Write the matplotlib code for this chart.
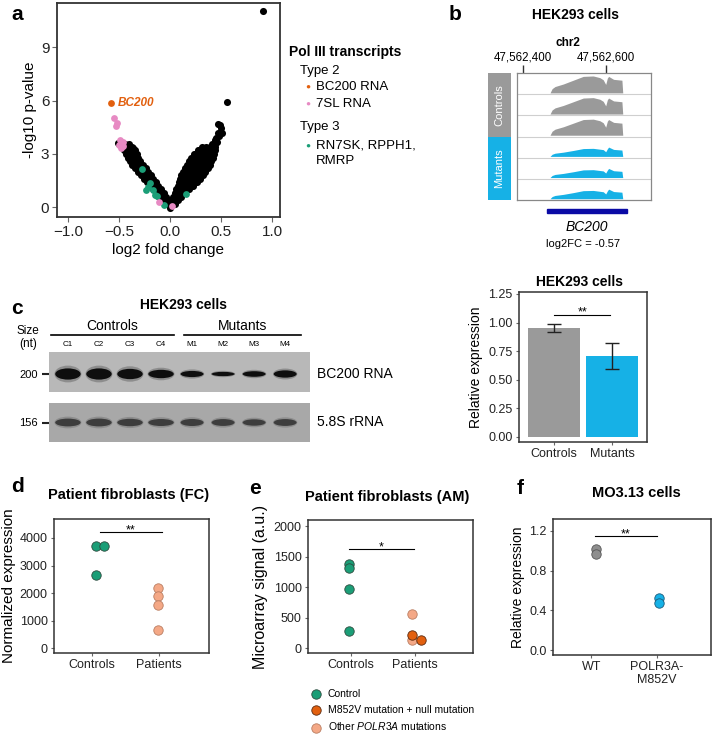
import matplotlib.pyplot as plt
import numpy as np
from matplotlib.patches import Ellipse, Rectangle

plt.rcParams['font.family'] = ['Liberation Sans', 'DejaVu Sans']
plt.rcParams['mathtext.fontset'] = 'custom'
plt.rcParams['mathtext.it'] = 'Liberation Sans:italic'
plt.rcParams['mathtext.rm'] = 'Liberation Sans'

W, H = 713, 736

GREEN = '#1b9e77'
ORANGE = '#e2600f'
PINK = '#e78ac3'
SALMON = '#f4a886'
BLUE = '#16b1e6'
GRAY = '#9a9a9a'

# ---- a: volcano (black cloud read row by row: y level, x positions) ----
volcano_rows = [
    (-0.05, [0.0]),
    (0.2, [-0.04, -0.01, 0.01, 0.05]),
    (0.4, [-0.08, -0.05, -0.02, 0.02, 0.05, 0.08]),
    (0.6, [-0.11, -0.07, -0.035, 0.03, 0.07, 0.11]),
    (0.8, [-0.14, -0.1, -0.06, 0.045, 0.085, 0.12, 0.15]),
    (1.0, [-0.165, -0.125, -0.09, 0.06, 0.1, 0.14, 0.19]),
    (1.2, [-0.19, -0.15, -0.115, 0.075, 0.115, 0.155, 0.195, 0.225]),
    (1.4, [-0.225, -0.18, -0.14, 0.085, 0.125, 0.165, 0.205, 0.24, 0.26]),
    (1.6, [-0.255, -0.21, -0.165, 0.1, 0.14, 0.18, 0.22, 0.26, 0.29]),
    (1.8, [-0.285, -0.24, -0.19, 0.11, 0.15, 0.19, 0.23, 0.27, 0.32]),
    (2.0, [-0.315, -0.265, -0.215, 0.125, 0.165, 0.205, 0.245, 0.285, 0.32, 0.345]),
    (2.2, [-0.34, -0.29, -0.24, 0.145, 0.185, 0.225, 0.265, 0.305, 0.34, 0.37]),
    (2.4, [-0.37, -0.32, -0.265, 0.165, 0.205, 0.245, 0.285, 0.325, 0.36, 0.39]),
    (2.6, [-0.395, -0.345, -0.29, 0.185, 0.225, 0.265, 0.305, 0.345, 0.38, 0.405]),
    (2.8, [-0.415, -0.36, -0.31, 0.21, 0.25, 0.29, 0.33, 0.37, 0.42]),
    (3.0, [-0.435, -0.38, -0.325, 0.235, 0.275, 0.315, 0.355, 0.395, 0.43]),
    (3.2, [-0.45, -0.4, -0.345, 0.27, 0.31, 0.35, 0.39, 0.44]),
    (3.4, [-0.465, -0.415, -0.37, 0.31, 0.35, 0.39, 0.445]),
    (3.55, [-0.48, -0.44, -0.4, 0.41, 0.44]),
]
black_x = [0.91, 0.556, -0.51, -0.41, -0.36, 0.43, 0.46, 0.45, 0.47, 0.51, 0.5, 0.49, 0.47, 0.44, 0.48]
black_y = [11.07, 5.9, 3.62, 3.42, 3.32, 3.55, 3.7, 3.9, 4.17, 4.2, 4.45, 4.64, 4.7, 3.8, 4.0]
pink_x = [-0.546, -0.516, -0.53, -0.49, -0.46, -0.5, -0.46, -0.48, -0.105, 0.016]
pink_y = [5.05, 4.77, 4.6, 3.79, 3.66, 3.51, 3.42, 3.32, 0.32, 0.07]
green_x = [-0.27, -0.196, -0.212, -0.235, -0.17, -0.147, -0.124, -0.056, 0.157]
green_y = [2.14, 1.39, 1.13, 0.98, 0.98, 0.69, 0.64, 0.11, 0.75]
bc200_x, bc200_y = -0.58, 5.86

# ---- b: coverage track (positions = bp after 47,562,000) ----
cov_pos = [465, 470, 477, 497, 521, 545, 569, 585, 593, 599, 603, 606, 618, 638, 640]
control_cov = [0, 0.2, 0.3, 0.42, 0.6, 0.78, 0.8, 0.72, 0.62, 0.4, 0.7, 0.78, 0.64, 0.6, 0]
mutant_cov = [0, 0.1, 0.15, 0.2, 0.28, 0.37, 0.38, 0.34, 0.32, 0.22, 0.36, 0.44, 0.33, 0.3, 0]
control_scale = [1.0, 0.97, 0.95]
mutant_scale = [1.0, 0.98, 1.03]
gene_start, gene_end = 458, 651
track_ticks = [400, 600]

# ---- b: bar chart ----
bar_groups = ['Controls', 'Mutants']
bar_mean = [0.95, 0.705]
bar_lo = [0.915, 0.59]
bar_hi = [0.99, 0.82]

# ---- c: northern blot ----
lane_labels = ['C1', 'C2', 'C3', 'C4', 'M1', 'M2', 'M3', 'M4']
bc200_signal = [1.0, 1.0, 0.92, 0.75, 0.55, 0.38, 0.5, 0.65]
rrna_signal = [1.0, 1.0, 0.95, 0.9, 0.9, 0.88, 0.82, 0.88]

# ---- d ----
d_ctrl_x = [1.06, 1.19, 1.06]
d_ctrl_y = [3720, 3720, 2650]
d_pat_x = [1.99, 1.99, 1.99, 1.99]
d_pat_y = [2190, 1880, 1575, 650]

# ---- e ----
e_ctrl_x = [0.97, 0.97, 0.97, 0.97]
e_ctrl_y = [1380, 1320, 967, 279]
e_other_x = [1.95, 1.95]
e_other_y = [552, 125]
e_null_x = [1.95, 2.09]
e_null_y = [213, 131]

# ---- f ----
f_wt_x = [1.08, 1.08]
f_wt_y = [1.015, 0.968]
f_mut_x = [2.03, 2.03]
f_mut_y = [0.52, 0.47]

fig = plt.figure(figsize=(W / 100, H / 100), dpi=100)


def add_ax(x0, y0, x1, y1):
    # pixel box (left, top, right, bottom) -> figure fraction
    return fig.add_axes([x0 / W, 1 - y1 / H, (x1 - x0) / W, (y1 - y0) / H])


def ftext(x, y, s, **kw):
    kw.setdefault('ha', 'center')
    kw.setdefault('va', 'center')
    return fig.text(x / W, 1 - y / H, s, **kw)


def style_box(ax, lw=1.1, size=9):
    for sp in ax.spines.values():
        sp.set_color('#333333')
        sp.set_linewidth(lw)
    ax.tick_params(length=2.5, color='#666666', labelcolor='#222222', labelsize=size, pad=2)


def sig(ax, x0, x1, y, label):
    ax.plot([x0, x1], [y, y], color='black', lw=0.8)
    ax.annotate(label, ((x0 + x1) / 2, y), xytext=(0, -1), textcoords='offset points',
                ha='center', va='baseline', fontsize=9)


for lab, x, y in [('a', 17, 15), ('b', 455, 15), ('c', 17, 309),
                  ('d', 18, 487), ('e', 255, 488), ('f', 520, 488)]:
    ftext(x, y, lab, fontsize=15, fontweight='bold')

# ================= a =================
ax = add_ax(57, 3, 280, 217)
cx = [x for y, xs in volcano_rows for x in xs]
cy = [y for y, xs in volcano_rows for x in xs]
ax.scatter(cx + black_x, cy + black_y, s=26, c='black', lw=0)
ax.scatter(green_x, green_y, s=24, c=GREEN, lw=0)
ax.scatter(pink_x, pink_y, s=24, c=PINK, lw=0)
ax.scatter([bc200_x], [bc200_y], s=24, c=ORANGE, lw=0)
ax.text(bc200_x + 0.065, bc200_y, 'BC200', color=ORANGE, fontweight='bold',
        fontstyle='italic', fontsize=8.5, va='center')
ax.set_xlim(-1.108, 1.078)
ax.set_ylim(-0.55, 11.5)
ax.set_xticks([-1, -0.5, 0, 0.5, 1])
ax.set_yticks([0, 3, 6, 9])
style_box(ax, lw=1.3, size=11)
ax.tick_params(length=3.5)
ax.set_xlabel('log2 fold change', fontsize=11, labelpad=3)
ax.set_ylabel('-log10 p-value', fontsize=11, labelpad=3)

ftext(289, 52, 'Pol III transcripts', ha='left', fontsize=10, fontweight='bold')
ftext(300, 71, 'Type 2', ha='left', fontsize=9.5)
ftext(300, 127, 'Type 3', ha='left', fontsize=9.5)
for y, col, txt in [(87, ORANGE, 'BC200 RNA'), (104, PINK, '7SL RNA'),
                    (146, GREEN, 'RN7SK, RPPH1,')]:
    ftext(308, y, '\u25cf', color=col, fontsize=6)
    ftext(316, y, txt, ha='left', fontsize=9.5)
ftext(316, 161, 'RMRP', ha='left', fontsize=9.5)

# ================= b (track) =================
ftext(575, 15, 'HEK293 cells', fontsize=10, fontweight='bold')
ftext(568, 43, 'chr2', fontsize=8.5, fontweight='bold')
ax = add_ax(517, 73, 651, 200)
ax.set_xlim(385.5, 708)
ax.set_ylim(0, 6)
rows = [(s, control_cov, GRAY) for s in control_scale] + [(s, mutant_cov, BLUE) for s in mutant_scale]
for i, (scale, cov, col) in enumerate(rows):
    base = 5 - i + 0.06
    ax.fill_between(cov_pos, base, base + np.array(cov) * scale, color=col, lw=0)
    if i > 0:
        ax.axhline(6 - i, color='#cfcfcf', lw=0.8)
for sp in ax.spines.values():
    sp.set_color('#888888')
    sp.set_linewidth(0.9)
ax.set_yticks([])
ax.xaxis.tick_top()
ax.set_xticks(track_ticks)
ax.set_xticklabels(['47,562,%d' % t for t in track_ticks])
ax.tick_params(axis='x', length=6, width=1, color='#333333', labelsize=8.3, pad=1)
ax.add_patch(Rectangle((gene_start, -0.63), gene_end - gene_start, 0.2, color='#0a0aa5', clip_on=False))
ax.text((gene_start + gene_end) / 2, -1.27, 'BC200', fontstyle='italic', fontsize=10, ha='center', va='center')
ax.text((gene_start + gene_end) / 2 - 10, -2.07, 'log2FC = -0.57', fontsize=8, ha='center', va='center')

ax = add_ax(488, 73, 511, 200)
ax.set_xlim(0, 1)
ax.set_ylim(0, 6)
ax.axis('off')
for lo, col, txt in [(3, GRAY, 'Controls'), (0, BLUE, 'Mutants')]:
    ax.add_patch(Rectangle((0, lo), 1, 3, color=col, lw=0))
    ax.text(0.5, lo + 1.5, txt, rotation=90, color='white', fontsize=8, ha='center', va='center')

# ================= b (bars) =================
ftext(579, 282, 'HEK293 cells', fontsize=10, fontweight='bold')
ax = add_ax(519, 292, 647, 442)
bx = np.arange(1, len(bar_groups) + 1)
ax.bar(bx, bar_mean, width=0.9, color=[GRAY, BLUE], lw=0)
m = np.array(bar_mean)
ax.errorbar(bx, m, yerr=[m - np.array(bar_lo), np.array(bar_hi) - m], fmt='none',
            ecolor='#222222', elinewidth=1, capsize=5, capthick=1)
sig(ax, 1.0, 1.97, 1.07, '**')
ax.set_xlim(0.4, 2.6)
ax.set_ylim(-0.044, 1.267)
ax.set_xticks(bx)
ax.set_xticklabels(bar_groups)
ax.set_yticks([0, 0.25, 0.5, 0.75, 1.0, 1.25])
ax.set_yticklabels(['0.00', '0.25', '0.50', '0.75', '1.00', '1.25'])
style_box(ax)
ax.set_ylabel('Relative expression', fontsize=10, labelpad=4)

# ================= c (blot) =================
ftext(183, 305, 'HEK293 cells', fontsize=10, fontweight='bold')
ftext(28, 331, 'Size', fontsize=8.5)
ftext(28, 344, '(nt)', fontsize=8.5)
lanes = np.arange(len(lane_labels))
blots = [((352, 392), '#b8b8b8', '#0e0e0e', bc200_signal, 0.45, 0.28, '200', 'BC200 RNA'),
         ((403, 442), '#a8a8a8', '#3d3d3d', rrna_signal, 0.5, 0.2, '156', '5.8S rRNA')]
for k, ((top, bot), bg, band, signal, yc, hmax, size, name) in enumerate(blots):
    ax = add_ax(49, top, 310, bot)
    ax.set_facecolor(bg)
    ax.set_xlim(-0.61, 7.8)
    ax.set_ylim(0, 1)
    for sp in ax.spines.values():
        sp.set_visible(False)
    for i, s in zip(lanes, signal):
        w = 0.82 if i < 4 else 0.74
        ax.add_patch(Ellipse((i, yc), w * 1.06, hmax * s * 1.5, color=band, alpha=0.25, lw=0))
        ax.add_patch(Ellipse((i, yc), w, hmax * s, color=band, lw=0))
    ax.set_yticks([yc])
    ax.set_yticklabels([size])
    ax.tick_params(axis='y', length=5, width=1.5, color='#222222', labelsize=8, pad=3)
    ax.text(1.027, yc, name, transform=ax.transAxes, fontsize=10, va='center')
    if k == 0:
        ax.xaxis.tick_top()
        ax.set_xticks(lanes)
        ax.set_xticklabels(lane_labels)
        ax.tick_params(axis='x', length=0, labelsize=5.8, pad=3)
        for x0, x1, txt in [(-0.55, 3.42, 'Controls'), (3.74, 7.52, 'Mutants')]:
            ax.plot([x0, x1], [1.425, 1.425], color='black', lw=1.2, clip_on=False)
            ax.text((x0 + x1) / 2, 1.65, txt, fontsize=10, ha='center', va='center')
    else:
        ax.set_xticks([])

# ================= d =================
ftext(129, 495, 'Patient fibroblasts (FC)', fontsize=10.5, fontweight='bold')
ax = add_ax(54, 519, 209, 653)
ax.scatter(d_ctrl_x, d_ctrl_y, s=46, c=GREEN, edgecolors='#2d4a3e', lw=0.6, zorder=3)
ax.scatter(d_pat_x, d_pat_y, s=46, c=SALMON, edgecolors='#b97d62', lw=0.6, zorder=3)
sig(ax, 1.12, 2.05, 4220, '**')
ax.set_xlim(0.44, 2.75)
ax.set_ylim(-180, 4690)
ax.set_xticks([1, 2])
ax.set_xticklabels(['Controls', 'Patients'])
ax.set_yticks([0, 1000, 2000, 3000, 4000])
style_box(ax)
ax.set_ylabel('Normalized expression', fontsize=11, labelpad=3)

# ================= e =================
ftext(387, 497, 'Patient fibroblasts (AM)', fontsize=10.5, fontweight='bold')
ax = add_ax(308, 520, 473, 653)
h1 = ax.scatter(e_ctrl_x, e_ctrl_y, s=46, c=GREEN, edgecolors='#2d4a3e', lw=0.6, zorder=3)
h3 = ax.scatter(e_other_x, e_other_y, s=46, c=SALMON, edgecolors='#b97d62', lw=0.6, zorder=3)
h2 = ax.scatter(e_null_x, e_null_y, s=46, c=ORANGE, edgecolors='#5a2a10', lw=0.6, zorder=4)
sig(ax, 0.98, 1.98, 1623, '*')
ax.set_xlim(0.34, 2.9)
ax.set_ylim(-82, 2100)
ax.set_xticks([1, 2])
ax.set_xticklabels(['Controls', 'Patients'])
ax.set_yticks([0, 500, 1000, 1500, 2000])
style_box(ax)
ax.set_ylabel('Microarray signal (a.u.)', fontsize=11.5, labelpad=4)
fig.legend([h1, h2, h3], ['Control', 'M852V mutation + null mutation', 'Other $\\it{POLR3A}$ mutations'],
           loc='upper left', bbox_to_anchor=(311 / W, 1 - 689 / H), frameon=False, fontsize=7.5,
           borderpad=0, handlelength=1.0, handletextpad=0.6, labelspacing=0.55, borderaxespad=0)

# ================= f =================
ftext(636, 493, 'MO3.13 cells', fontsize=10.5, fontweight='bold')
ax = add_ax(553, 519, 711, 655)
ax.scatter(f_wt_x, f_wt_y, s=46, c='#8e8e8e', edgecolors='#555555', lw=0.6, zorder=3)
ax.scatter(f_mut_x, f_mut_y, s=46, c=BLUE, edgecolors='#1c5a7a', lw=0.6, zorder=3)
sig(ax, 1.06, 2.0, 1.15, '**')
ax.set_xlim(0.42, 2.82)
ax.set_ylim(-0.05, 1.32)
ax.set_xticks([1, 2])
ax.set_xticklabels(['WT', 'POLR3A-\nM852V'], linespacing=1.05)
ax.set_yticks([0, 0.4, 0.8, 1.2])
style_box(ax)
ax.set_ylabel('Relative expression', fontsize=10, labelpad=3)

fig.savefig('out.png', dpi=100)
